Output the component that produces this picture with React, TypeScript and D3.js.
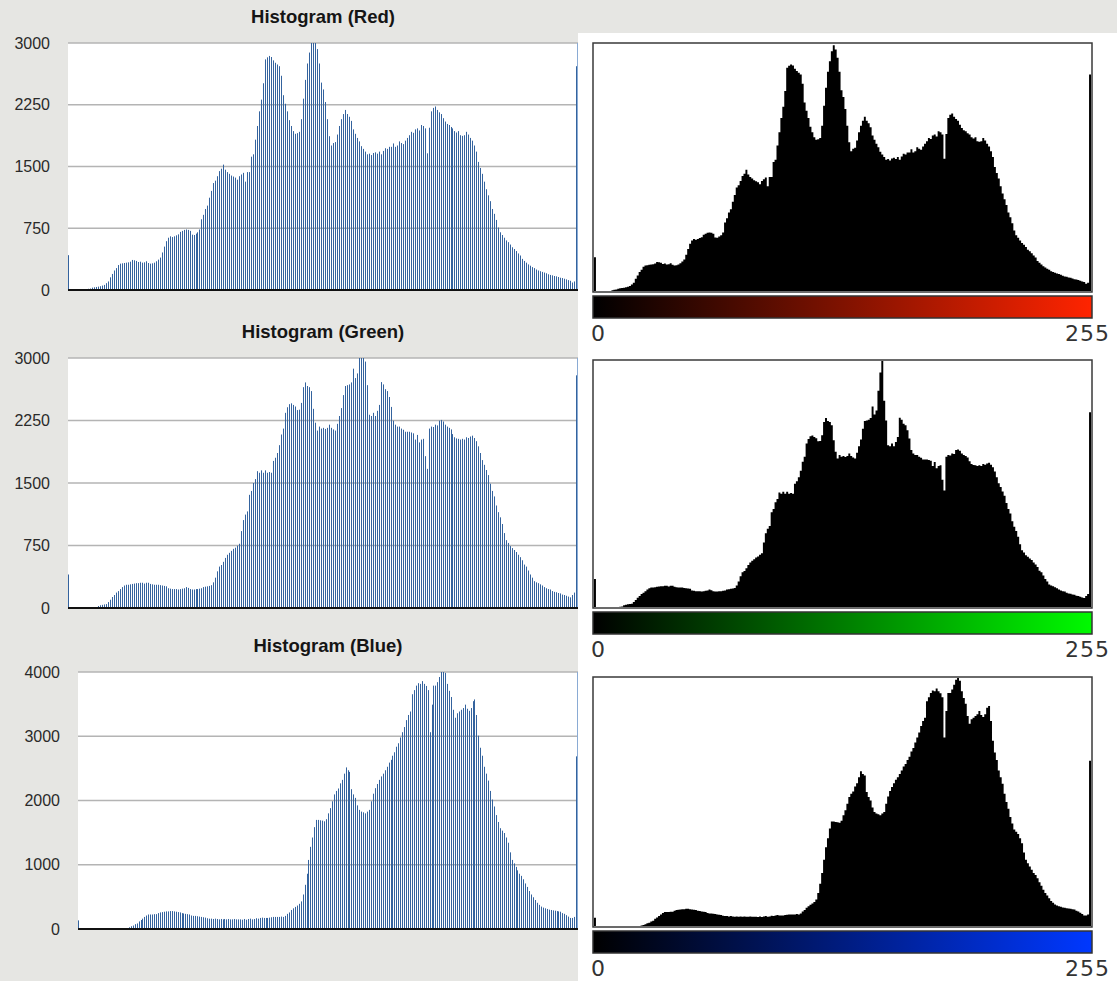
import React from 'react';
import * as d3 from 'd3';

// 256-bin channel histograms (pixel counts)
const redCounts = [
  423, 0, 0, 0, 0, 0, 0, 0, 0, 10, 15, 18,
  29, 33, 37, 41, 46, 54, 62, 83, 104,
  154, 195, 237, 266, 303, 320, 324, 328, 332, 336,
  344, 365, 361, 353, 340, 344, 332, 336, 349, 328,
  320, 324, 332, 349, 369, 394, 456, 527, 593, 635,
  652, 643, 652, 664, 676, 706, 718, 730, 735, 730,
  718, 672, 668, 685, 701, 735, 859, 913, 984, 1025,
  1121, 1204, 1299, 1328, 1382, 1444, 1473, 1523, 1461, 1432,
  1411, 1390, 1378, 1365, 1340, 1382, 1403, 1423, 1316, 1432,
  1432, 1619, 1648, 1826, 1992, 2170, 2312, 2511, 2801, 2826,
  2843, 2830, 2789, 2760, 2739, 2718, 2602, 2366, 2262, 2170,
  2063, 1992, 1930, 1897, 1905, 1921, 2075, 2324, 2552, 2751,
  2884, 3009, 3083, 3030, 2926, 2751, 2519, 2436, 2283, 2075,
  1868, 1755, 1785, 1797, 1888, 1992, 2075, 2137, 2187, 2137,
  2104, 2054, 1951, 1897, 1847, 1805, 1747, 1714, 1681, 1648,
  1656, 1639, 1664, 1672, 1656, 1681, 1648, 1689, 1722, 1714,
  1739, 1739, 1780, 1739, 1755, 1805, 1785, 1772, 1814, 1847,
  1880, 1921, 1909, 1951, 1963, 1938, 2004, 1992, 1963, 1660,
  1971, 2170, 2212, 2229, 2187, 2158, 2137, 2087, 2046, 2017,
  2004, 1980, 1963, 1930, 1913, 1930, 1880, 1872, 1880, 1921,
  1888, 1847, 1814, 1755, 1681, 1556, 1482, 1411, 1316, 1224,
  1150, 1079, 984, 925, 851, 759, 701, 668, 635, 602,
  581, 552, 519, 498, 473, 444, 419, 378, 353, 332,
  311, 295, 278, 266, 249, 237, 228, 220, 212, 203,
  191, 183, 178, 170, 166, 158, 149, 145, 137, 129,
  120, 112, 91, 104, 2718,
];

const greenCounts = [
  402, 0, 0, 0, 0, 0, 0, 0, 0, 0, 0, 0, 0, 5, 8,
  24, 33, 38, 43, 47, 71,
  99, 132, 156, 185, 203, 227, 251, 270, 279, 279,
  284, 289, 293, 298, 298, 303, 303, 293, 303, 303,
  289, 284, 279, 279, 279, 274, 270, 265, 260, 237,
  232, 227, 227, 227, 222, 227, 232, 237, 251, 241,
  227, 222, 222, 227, 227, 232, 237, 251, 256, 260,
  265, 274, 308, 364, 440, 497, 516, 554, 601, 639,
  662, 686, 710, 724, 748, 771, 923, 1055, 1121, 1159,
  1358, 1405, 1500, 1547, 1642, 1623, 1652, 1623, 1652, 1623,
  1632, 1623, 1765, 1803, 1860, 1954, 2082, 2153, 2342, 2409,
  2446, 2456, 2437, 2418, 2375, 2380, 2461, 2650, 2707, 2664,
  2650, 2603, 2390, 2224, 2129, 2177, 2153, 2162, 2149, 2162,
  2200, 2162, 2143, 2129, 2210, 2304, 2399, 2555, 2664, 2674,
  2683, 2707, 2872, 2759, 2815, 3099, 3360, 3525, 2957, 2674,
  2319, 2304, 2342, 2304, 2366, 2437, 2711, 2683, 2626, 2603,
  2532, 2413, 2248, 2200, 2177, 2177, 2153, 2139, 2115, 2115,
  2115, 2106, 2096, 2021, 2077, 1987, 2021, 2030, 1822, 1670,
  2153, 2177, 2172, 2200, 2191, 2248, 2257, 2238, 2200, 2177,
  2162, 2143, 2087, 2049, 2035, 2030, 2021, 2030, 2021, 2049,
  2040, 2058, 2068, 2040, 2002, 1940, 1860, 1775, 1718, 1656,
  1595, 1491, 1405, 1339, 1230, 1150, 1088, 1008, 899, 814,
  781, 743, 719, 696, 672, 639, 610, 573, 521, 497,
  450, 402, 364, 322, 308, 298, 284, 270, 251, 237,
  227, 222, 203, 194, 189, 180, 175, 161, 156, 147,
  137, 128, 156, 185, 2792,
];

const blueCounts = [
  134, 0, 0, 0, 0, 0, 0, 0, 0, 0, 0, 0, 0, 0, 0, 0, 0, 0, 0, 0, 0, 0, 0, 0, 10, 15,
  27, 43, 54, 75, 86,
  118, 140, 161, 188, 210, 226, 226, 226, 231, 231,
  247, 258, 263, 269, 274, 274, 279, 279, 274, 269,
  263, 258, 247, 242, 236, 231, 226, 210, 204, 204,
  199, 193, 188, 183, 177, 167, 161, 161, 156, 161,
  156, 150, 156, 150, 156, 150, 156, 150, 150, 156,
  150, 150, 150, 145, 156, 145, 156, 161, 150, 156,
  167, 161, 172, 177, 172, 172, 172, 177, 183, 188,
  188, 188, 188, 193, 188, 204, 236, 258, 296, 322,
  344, 365, 392, 430, 537, 688, 860, 1075, 1279, 1424,
  1585, 1698, 1698, 1692, 1687, 1676, 1709, 1800, 1881, 1988,
  2095, 2149, 2187, 2267, 2321, 2418, 2515, 2471, 2445, 2176,
  2095, 2041, 1924, 1854, 1827, 1816, 1800, 1827, 1854, 1988,
  2106, 2192, 2257, 2321, 2375, 2418, 2471, 2525, 2590, 2633,
  2697, 2751, 2837, 2891, 2982, 3063, 3143, 3251, 3331, 3385,
  3654, 3718, 3788, 3826, 3815, 3858, 3815, 3783, 3718, 3063,
  3492, 3788, 3788, 3842, 3922, 4003, 4030, 3987, 3815, 3707,
  3611, 3412, 3288, 3358, 3385, 3412, 3439, 3492, 3428, 3396,
  3439, 3546, 3573, 3331, 3009, 2821, 2697, 2525, 2418, 2310,
  2149, 2015, 1907, 1773, 1666, 1569, 1531, 1494, 1424, 1343,
  1193, 1075, 1021, 967, 913, 860, 827, 774, 709, 655,
  591, 537, 494, 451, 408, 376, 349, 333, 322, 312,
  301, 296, 290, 285, 279, 274, 269, 247, 236, 215,
  193, 172, 172, 188, 2687,
];

const rgTicks = [0, 750, 1500, 2250, 3000];
const blueTicks = [0, 1000, 2000, 3000, 4000];
const rampLabels = ['0', '255'];

const BINS = d3.range(256);
const FONT = '"Liberation Sans", Arial, Helvetica, sans-serif';

function BarPanel({ values, title, ticks, x0, x1, top, bottom, titleY, labelX }) {
  const x = d3.scaleBand().domain(BINS).range([x0, x1]);
  const y = d3.scaleLinear().domain([0, ticks[ticks.length - 1]]).range([bottom, top]).clamp(true);
  return (
    <g>
      <rect x={x0} y={top} width={x1 - x0} height={bottom - top} fill="#fff" />
      {ticks.slice(1).map(t => (
        <line key={t} x1={x0} x2={x1} y1={y(t)} y2={y(t)} stroke="#b4b4b4" strokeWidth={1.5} />
      ))}
      {values.map((v, i) => v > 0 && (
        <rect key={i} x={Math.round(x(i))} y={y(v)} width={1} height={bottom - y(v)} fill="#34639e" />
      ))}
      <line x1={x1 - 0.5} x2={x1 - 0.5} y1={top} y2={bottom} stroke="#8aabd4" strokeWidth={1} />
      <line x1={x0} x2={x1} y1={bottom} y2={bottom} stroke="#111" strokeWidth={2} />
      {ticks.map(t => (
        <text key={t} x={labelX} y={y(t) + 5.5} textAnchor="end" fontFamily={FONT} fontSize={16} fill="#2a2a2a">{t}</text>
      ))}
      <text x={(x0 + x1) / 2} y={titleY} textAnchor="middle" fontFamily={FONT} fontSize={18.5} fontWeight="bold" fill="#151515">{title}</text>
    </g>
  );
}

function AreaPanel({ values, vmax, gradId, x0, x1, top, bottom }) {
  const x = d3.scaleLinear().domain([0, 256]).range([x0 + 1, x1 - 1]);
  const y = d3.scaleLinear().domain([0, vmax]).range([bottom - 1, top + 1]).clamp(true);
  const pts = [...BINS, 256];
  const area = d3.area()
    .x(i => x(i))
    .y0(bottom - 1)
    .y1(i => y(values[Math.min(i, 255)]))
    .curve(d3.curveStepAfter);
  const gTop = bottom + 4;
  const gH = 22;
  return (
    <g>
      <rect x={x0} y={top} width={x1 - x0} height={bottom - top} fill="#fff" stroke="#3a3a3a" strokeWidth={1.5} />
      <path d={area(pts)} fill="#000" />
      <rect x={x0} y={gTop} width={x1 - x0} height={gH} fill={`url(#${gradId})`} stroke="#333" strokeWidth={1.5} />
      <text x={x0 - 2} y={gTop + gH + 23} fontFamily='"DejaVu Sans", sans-serif' fontSize={22} letterSpacing={1} fill="#333">{rampLabels[0]}</text>
      <text x={x1 + 18} y={gTop + gH + 23} textAnchor="end" fontFamily='"DejaVu Sans", sans-serif' fontSize={22} letterSpacing={1} fill="#333">{rampLabels[1]}</text>
    </g>
  );
}

export default function App() {
  const W = 1117;
  const H = 981;
  const ramps = [
    { id: 'rampRed', end: 'rgb(255,36,0)' },
    { id: 'rampGreen', end: 'rgb(0,250,0)' },
    { id: 'rampBlue', end: 'rgb(0,56,255)' },
  ];
  return (
    <svg width={W} height={H} style={{ position: 'absolute', left: 0, top: 0 }}>
      <defs>
        {ramps.map(r => (
          <linearGradient key={r.id} id={r.id} x1="0" x2="1" y1="0" y2="0">
            <stop offset="0" stopColor="#000" />
            <stop offset="1" stopColor={r.end} />
          </linearGradient>
        ))}
      </defs>
      <rect width={W} height={H} fill="#e6e6e3" />
      <rect x={578} y={33} width={W - 578} height={H - 33} fill="#fff" />

      <BarPanel values={redCounts} title="Histogram (Red)" ticks={rgTicks} x0={68} x1={578} top={43} bottom={290} titleY={23} labelX={50} />
      <BarPanel values={greenCounts} title="Histogram (Green)" ticks={rgTicks} x0={68} x1={578} top={358} bottom={608} titleY={338} labelX={50} />
      <BarPanel values={blueCounts} title="Histogram (Blue)" ticks={blueTicks} x0={78} x1={578} top={672} bottom={929} titleY={652} labelX={60} />

      <AreaPanel values={redCounts} vmax={3100} gradId="rampRed" x0={593} x1={1092} top={43} bottom={292} />
      <AreaPanel values={greenCounts} vmax={3525} gradId="rampGreen" x0={593} x1={1092} top={360} bottom={608} />
      <AreaPanel values={blueCounts} vmax={4030} gradId="rampBlue" x0={593} x1={1092} top={677} bottom={927} />
    </svg>
  );
}
